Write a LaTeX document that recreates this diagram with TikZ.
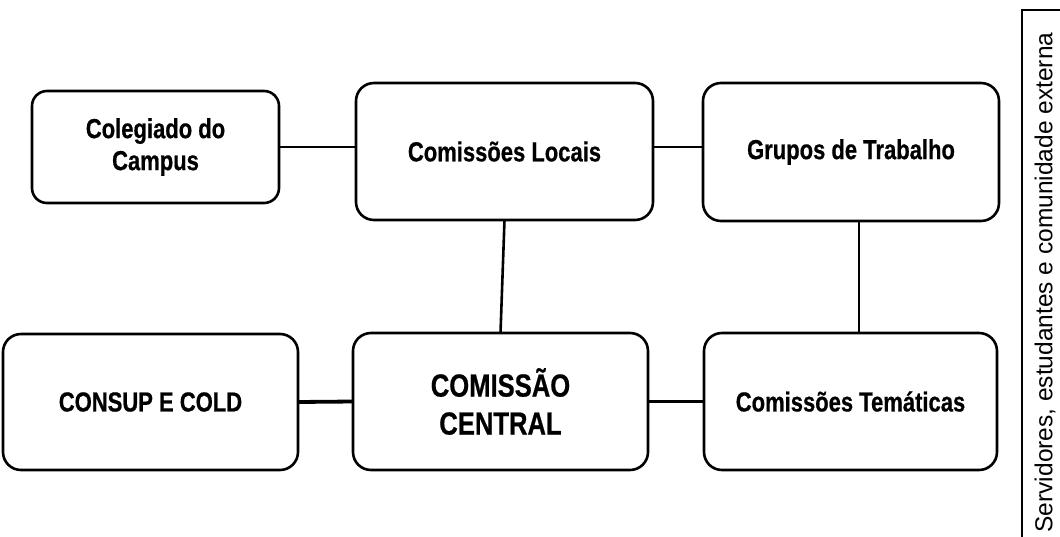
\documentclass[tikz,border=0pt]{standalone}
\usepackage{fontspec}
\setmainfont{Liberation Sans}[FakeStretch=0.8,FakeBold=0.6]
\newfontfamily\sidefont{Liberation Sans}
\usetikzlibrary{calc}
\begin{document}
\begin{tikzpicture}[x=1pt,y=-1pt,
  box/.style={draw, line width=2.6pt, rounded corners=18pt, inner sep=0pt, outer sep=0pt,
    align=center, font=\bfseries\fontsize{27.5}{32}\selectfont},
  bigbox/.style={box, font=\bfseries\fontsize{32}{38}\selectfont},
  thinlink/.style={line width=1.6pt},
  midlink/.style={line width=2.6pt},
  thicklink/.style={line width=3.8pt}]
\useasboundingbox (0,0) rectangle (1060,536);

\node[box, rounded corners=15pt, minimum width=247pt, minimum height=112pt] (col) at (155.5,147) {Colegiado do\\Campus};
\node[box, minimum width=297pt, minimum height=137pt] (loc) at (504.5,151.5) {Comissões Locais};
\node[box, minimum width=296pt, minimum height=138pt] (gru) at (851,152) {Grupos de Trabalho};
\node[box, minimum width=295pt, minimum height=136pt] (con) at (150.5,402) {CONSUP E COLD};
\node[bigbox, minimum width=295pt, minimum height=137pt] (cen) at (500.5,401.5) {COMISSÃO\\CENTRAL};
\node[box, minimum width=293pt, minimum height=137pt] (tem) at (850.5,401.5) {Comissões Temáticas};

\node[draw, line width=1.6pt, inner sep=0pt, minimum width=50pt, minimum height=545pt] (side) at (1047,282.5) {};
\node[rotate=90, font=\sidefont\fontsize{24.5}{29}\selectfont] (sidetext) at (1045,282.5) {Servidores, estudantes e comunidade externa};

\draw[thinlink] (col.east) -- (col.east -| loc.west);
\draw[thinlink] (col.east -| loc.east) -- (col.east -| gru.west);
\draw[midlink] (loc.south) -- (cen.north);
\draw[thinlink] ($(gru.south)+(8,0)$) -- ($(tem.north)+(8.5,0)$);
\draw[thicklink] (con.east) -- (cen.west);
\draw[thicklink] (cen.east) -- (tem.west);
\end{tikzpicture}
\end{document}
